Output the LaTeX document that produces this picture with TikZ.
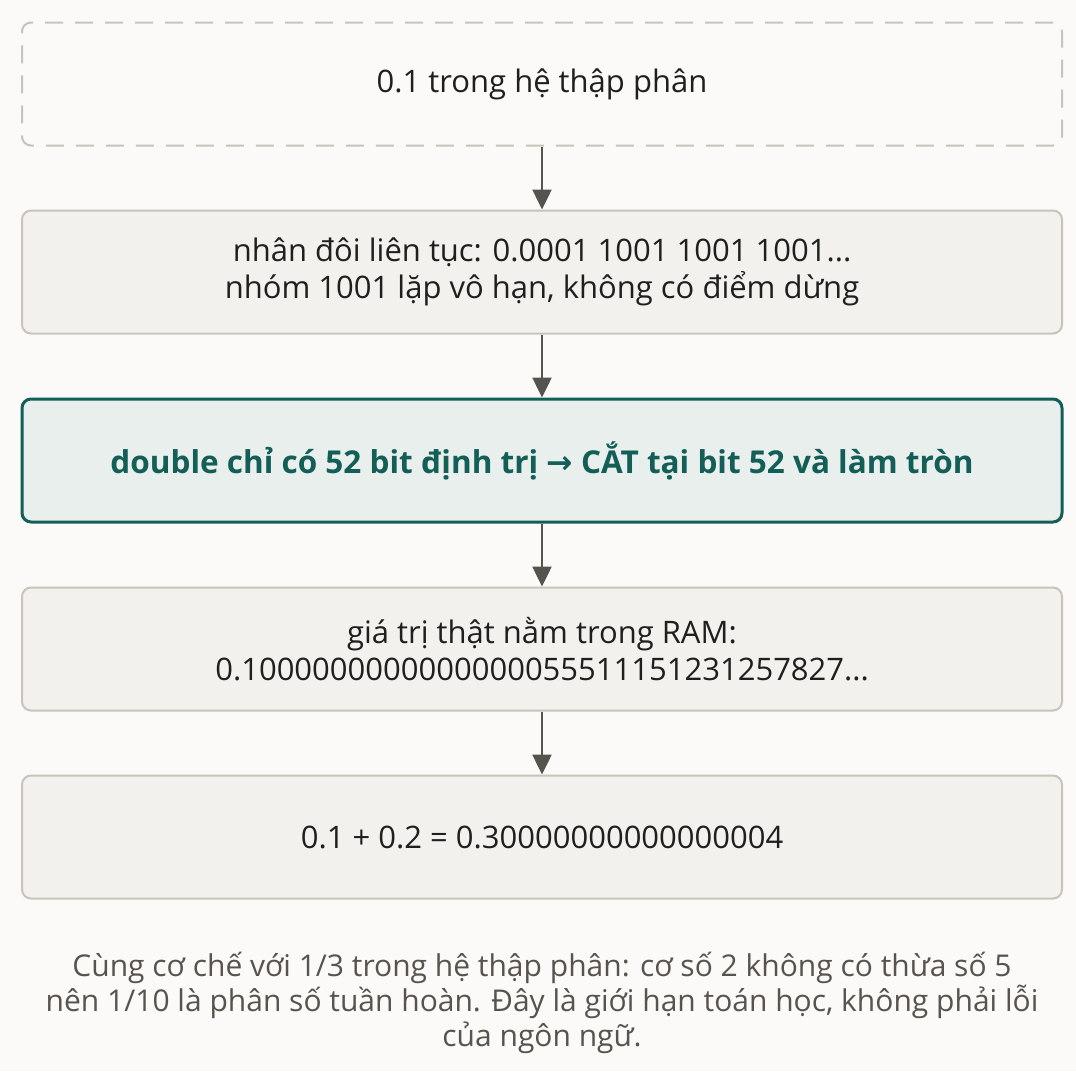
\documentclass[tikz,border=0pt]{standalone}
\usepackage{fontspec}
\setmainfont{Open Sans}
\newfontfamily\arrowfont{DejaVu Sans}
\usetikzlibrary{positioning, arrows.meta}
\definecolor{paper}{HTML}{FBFAF8}
\definecolor{boxfill}{HTML}{F2F1EE}
\definecolor{boxline}{HTML}{C9C4BB}
\definecolor{tealline}{HTML}{135E57}
\definecolor{tealfill}{HTML}{E8EFED}
\definecolor{inkdark}{HTML}{1F1F1D}
\definecolor{inkgray}{HTML}{57544E}
\definecolor{arrowgray}{HTML}{55534E}

\begin{document}
\begin{tikzpicture}[x=1pt, y=1pt,
    stepnode/.style={draw=boxline, fill=boxfill, line width=2pt, rounded corners=9pt,
        minimum width=1040pt, minimum height=123pt, align=center, text=inkdark,
        font=\fontsize{31}{37}\selectfont},
    startnode/.style={stepnode, fill=paper, dash pattern=on 18pt off 12pt},
    keynode/.style={stepnode, draw=tealline, fill=tealfill, line width=3pt,
        text=tealline, font=\fontsize{31.5}{37}\selectfont\bfseries},
    flow/.style={draw=arrowgray, line width=2.5pt, -{Triangle[length=20pt, width=19pt]}},
    node distance=63pt]
    \fill[paper] (0,0) rectangle (1076,-1071);
    \useasboundingbox (0,0) rectangle (1076,-1071);
    \node[startnode] (decimal) at (542,-84) {0.1 trong hệ thập phân};
    \node[stepnode, below=of decimal] (doubling) {nhân đôi liên tục: 0.0001 1001 1001 1001...\\nhóm 1001 lặp vô hạn, không có điểm dừng};
    \node[keynode, below=of doubling] (cut) {double chỉ có 52 bit định trị {\arrowfont →} CẮT tại bit 52 và làm tròn};
    \node[stepnode, below=of cut] (stored) {giá trị thật nằm trong RAM:\\0.1000000000000000055511151231257827...};
    \node[stepnode, below=of stored] (sum) {0.1 + 0.2 = 0.30000000000000004};
    \node[text=inkgray, align=center, font=\fontsize{30}{35}\selectfont,
        below=103pt of sum, anchor=center] (note)
        {Cùng cơ chế với 1/3 trong hệ thập phân: cơ số 2 không có thừa số 5\\nên 1/10 là phân số tuần hoàn. Đây là giới hạn toán học, không phải lỗi\\của ngôn ngữ.};
    \draw[flow] (decimal) -- (doubling);
    \draw[flow] (doubling) -- (cut);
    \draw[flow] (cut) -- (stored);
    \draw[flow] (stored) -- (sum);
\end{tikzpicture}
\end{document}
